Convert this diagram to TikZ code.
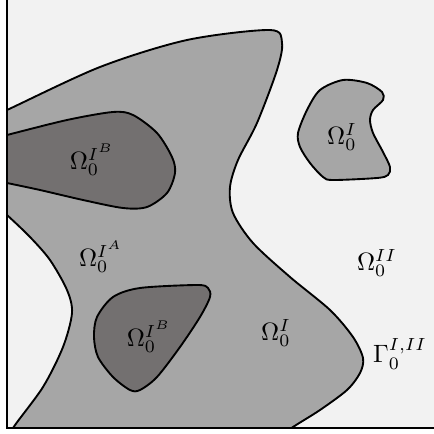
\documentclass[tikz,border=0pt]{standalone}
\usepackage{amsmath}
\usepackage{tikz}
\usetikzlibrary{positioning}
\definecolor{paper}{HTML}{F2F2F2}
\definecolor{phaseI}{HTML}{A6A6A6}
\definecolor{phaseB}{HTML}{737070}

\begin{document}
\begin{tikzpicture}[
  x=0.014cm, y=-0.014cm,
  region/.style={draw=black, line width=0.75pt, line join=round},
  light/.style={region, fill=phaseI},
  dark/.style={region, fill=phaseB},
  lbl/.style={inner sep=0pt, font=\normalsize}
]
\useasboundingbox (0,0) rectangle (434,434);
\fill[white] (0,0) rectangle (434,434);
\fill[paper] (7,0) rectangle (434,428);

\begin{scope}
  \clip (7,0) rectangle (434,428);
  % main phase I body
  \path[light] plot[smooth] coordinates {(8,442) (13,428) (43,387) (63,347) (72,313) (67,290)
      (50,260) (30,237) (7,215) (-10,200)}
    -- plot[smooth] coordinates {(-12,118) (7,110) (100,67) (187,40) (270,30) (282,43) (277,70)
      (257,123) (238,160) (230,187) (233,213) (253,243) (290,277) (330,310) (353,337)
      (363,358) (360,373) (347,390) (320,410) (293,427) (275,440)}
    -- (275,450) -- (8,450) -- cycle;
  % inclusion at the left wall
  \path[dark] plot[smooth] coordinates {(-12,140) (7,135) (67,120) (113,112) (133,115) (157,133)
      (172,157) (175,173) (167,193) (147,207) (123,208) (83,200) (40,190) (7,183) (-12,179)}
    -- cycle;
\end{scope}

% inner inclusion
\path[dark] plot[smooth cycle] coordinates {(97,317) (113,297) (140,288) (197,285) (208,288)
    (210,297) (200,317) (180,347) (157,377) (140,390) (130,390) (113,377) (98,357) (94,337)};
% isolated phase I island
\path[light] plot[smooth cycle] coordinates {(298,133) (307,110) (320,90) (343,80) (367,83)
    (382,92) (383,100) (373,110) (370,120) (373,133) (383,152) (390,167) (388,175) (377,178)
    (333,180) (323,177) (310,163) (300,147)};

% frame
\draw[line width=0.9pt] (7,0) -- (7,428) -- (434,428);

\node[lbl] (omBtop) at (92,160) {$\Omega_0^{I^B}$};
\node[lbl] (omIisl) at (342,137) {$\Omega_0^{I}$};
\node[lbl] (omA)    at (101,257) {$\Omega_0^{I^A}$};
\node[lbl] (omII)   at (377,263) {$\Omega_0^{II}$};
\node[lbl] (omBbot) at (149,337) {$\Omega_0^{I^B}$};
\node[lbl] (omI)    at (276,333) {$\Omega_0^{I}$};
\node[lbl] (gam)    at (400,354) {$\Gamma_0^{I,II}$};
\end{tikzpicture}
\end{document}
